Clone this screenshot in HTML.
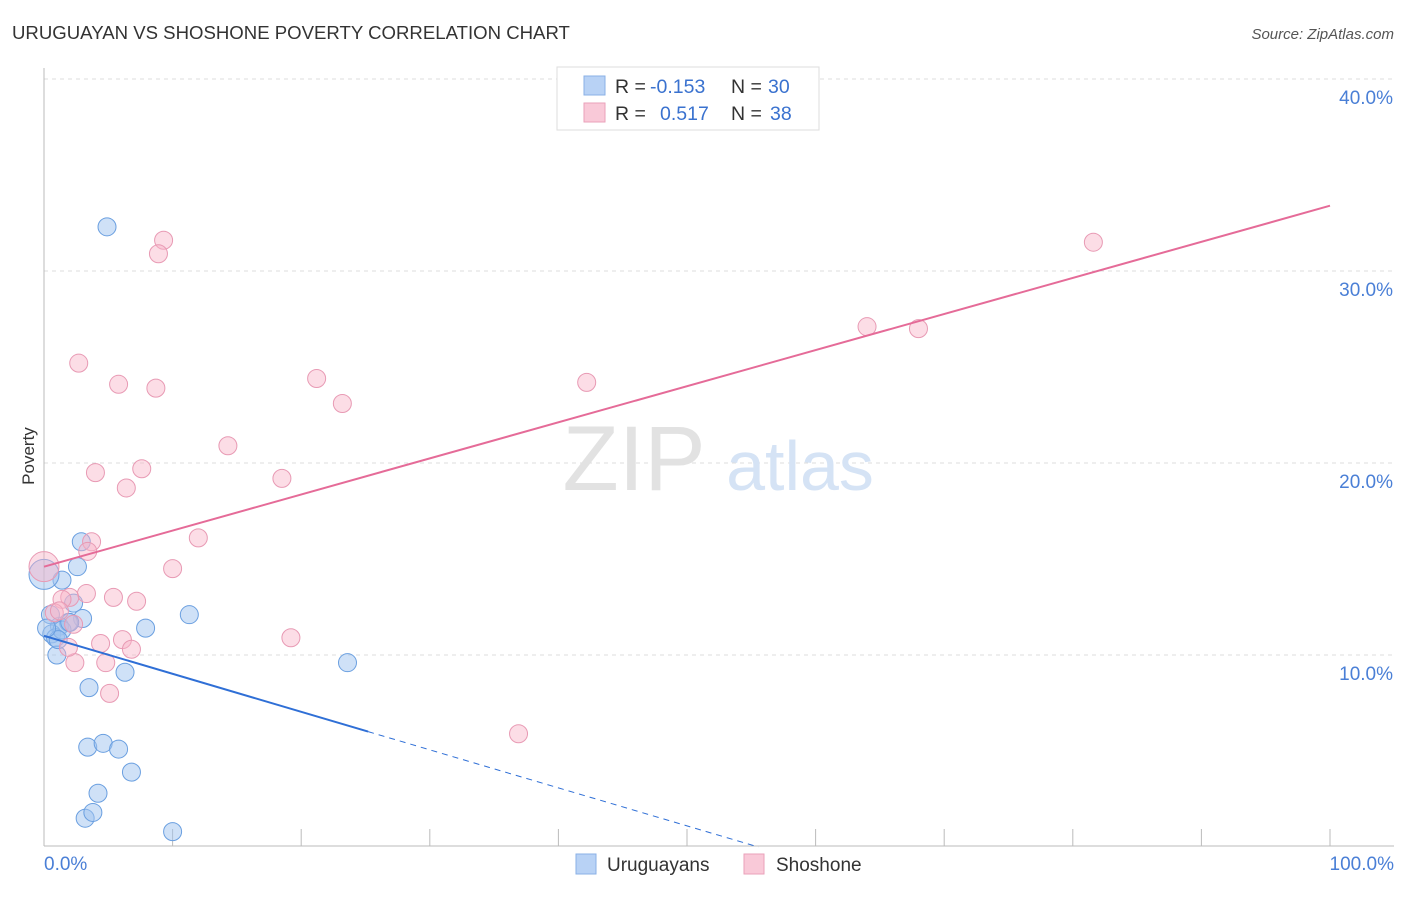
<!DOCTYPE html>
<html><head><meta charset="utf-8"><style>
body{margin:0;background:#fff;font-family:"Liberation Sans",sans-serif}
svg text{font-family:"Liberation Sans",sans-serif}
</style></head><body>
<svg width="1406" height="892" viewBox="0 0 1406 892" xmlns="http://www.w3.org/2000/svg">
<text x="12" y="39" font-size="18.6" fill="#333">URUGUAYAN VS SHOSHONE POVERTY CORRELATION CHART</text>
<text x="1394" y="39" font-size="15" fill="#555" font-style="italic" text-anchor="end">Source: ZipAtlas.com</text>
<g id="grid"></g>
<text x="634" y="490" font-size="92" fill="#e2e2e2" font-family="Liberation Serif" text-anchor="middle">ZIP</text>
<text x="800" y="490" font-size="70" fill="#d5e3f5" text-anchor="middle">atlas</text>
<line x1="44" y1="68" x2="44" y2="846" stroke="#bbb"/>
<line x1="44" y1="846" x2="1394" y2="846" stroke="#bbb"/>
<text x="34" y="456" font-size="17" fill="#333" transform="rotate(-90 34 456)" text-anchor="middle">Poverty</text>
<text x="44" y="870" font-size="19" fill="#4a7fd6">0.0%</text>
<text x="1394" y="870" font-size="19" fill="#4a7fd6" text-anchor="end">100.0%</text>
<g id="marks"></g>
<g>
<rect x="557" y="67" width="262" height="63" fill="#fff" stroke="#ddd"/>
<rect x="584" y="76" width="21" height="19" fill="#b8d2f5" stroke="#8ab0e6"/>
<rect x="584" y="103" width="21" height="19" fill="#f9c9d8" stroke="#eaa1ba"/>
<text x="615" y="93" font-size="19.5" fill="#333">R =</text>
<text x="650" y="93" font-size="19.5" fill="#3a72cf">-0.153</text>
<text x="731" y="93" font-size="19.5" fill="#333">N =</text>
<text x="768" y="93" font-size="19.5" fill="#3a72cf">30</text>
<text x="615" y="120" font-size="19.5" fill="#333">R =</text>
<text x="660" y="120" font-size="19.5" fill="#3a72cf">0.517</text>
<text x="731" y="120" font-size="19.5" fill="#333">N =</text>
<text x="770" y="120" font-size="19.5" fill="#3a72cf">38</text>
</g>
<g>
<rect x="576" y="854" width="20" height="20" fill="#b8d2f5" stroke="#8ab0e6"/>
<text x="607" y="871" font-size="19" fill="#333">Uruguayans</text>
<rect x="744" y="854" width="20" height="20" fill="#f9c9d8" stroke="#eaa1ba"/>
<text x="776" y="871" font-size="19" fill="#333">Shoshone</text>
</g>
</svg>
<script>
const yTicks=[10,20,30,40];
const yTickLabels=["10.0%","20.0%","30.0%","40.0%"];
const blueX=[4.9,2.9,2.6,1.4,0,2.3,3.0,1.9,1.2,0.6,0.9,1.4,7.9,11.3,1.0,6.3,3.5,23.6,3.4,4.6,5.8,6.8,4.2,3.2,3.8,10.0,2.0,0.5,1.1,0.2];
const blueY=[32.3,15.9,14.6,13.9,14.2,12.7,11.9,11.7,11.5,11.1,10.9,11.3,11.4,12.1,10.0,9.1,8.3,9.6,5.2,5.4,5.1,3.9,2.8,1.5,1.8,0.8,11.7,12.1,10.8,11.4];
const pinkX=[9.3,8.9,2.7,5.8,8.7,21.2,23.2,14.3,4.0,7.6,6.4,18.5,3.7,3.4,12.0,10.0,3.3,5.4,7.2,2.0,1.4,0.8,2.3,4.4,6.1,6.8,19.2,4.8,2.4,5.1,36.9,42.2,64.0,68.0,81.6,0,1.9,1.2];
const pinkY=[31.6,30.9,25.2,24.1,23.9,24.4,23.1,20.9,19.5,19.7,18.7,19.2,15.9,15.4,16.1,14.5,13.2,13.0,12.8,13.0,12.9,12.2,11.6,10.6,10.8,10.3,10.9,9.6,9.6,8.0,5.9,24.2,27.1,27.0,31.5,14.6,10.4,12.3];
const blueTrend=[11.0,-0.198];
const pinkTrend=[14.6,0.188];
const xs=v=>44+v*12.86, ys=v=>847-v*19.2;
const NS="http://www.w3.org/2000/svg";
const grid=document.getElementById('grid'), marks=document.getElementById('marks');
function mk(tag,attrs,parent){const e=document.createElementNS(NS,tag);for(const k in attrs)e.setAttribute(k,attrs[k]);parent.appendChild(e);return e;}
yTicks.forEach((t,i)=>{
 const l=mk('line',{x1:44,x2:1394,y1:ys(t),y2:ys(t),stroke:'#ddd','stroke-dasharray':'4,4'},grid);
 
 
 const tx=mk('text',{x:1393,y:ys(t)+25,'font-size':19,fill:'#4a7fd6','text-anchor':'end'},grid);
 tx.textContent=yTickLabels[i];
 
 
});
for(let k=0;k<=10;k++){
 const l=mk('line',{x1:xs(k*10),x2:xs(k*10),y1:829,y2:846,stroke:'#bbb'},grid);
 
 
}
blueX.forEach((x,i)=>{
 const c=mk('circle',{cx:xs(x),cy:ys(blueY[i]),r:x===0?15:9,fill:'rgba(160,196,240,0.5)',stroke:'#6a9fe0','stroke-width':1},marks);
 
 
});
pinkX.forEach((x,i)=>{
 const c=mk('circle',{cx:xs(x),cy:ys(pinkY[i]),r:x===0?15:9,fill:'rgba(248,180,200,0.45)',stroke:'#e89ab4','stroke-width':1},marks);
 
 
});
const bEnd=25.2, bZero=-blueTrend[0]/blueTrend[1];
const b1=mk('line',{x1:xs(0),y1:ys(blueTrend[0]),x2:xs(bEnd),y2:ys(blueTrend[0]+blueTrend[1]*bEnd),stroke:'#2f6fd6','stroke-width':2},marks);


const b2=mk('line',{x1:xs(bEnd),y1:ys(blueTrend[0]+blueTrend[1]*bEnd),x2:xs(bZero),y2:ys(0),stroke:'#2f6fd6','stroke-width':1,'stroke-dasharray':'6,5'},marks);


const p1=mk('line',{x1:xs(0),y1:ys(pinkTrend[0]),x2:xs(100),y2:ys(pinkTrend[0]+pinkTrend[1]*100),stroke:'#e56b98','stroke-width':2},marks);


</script>
</body></html>
